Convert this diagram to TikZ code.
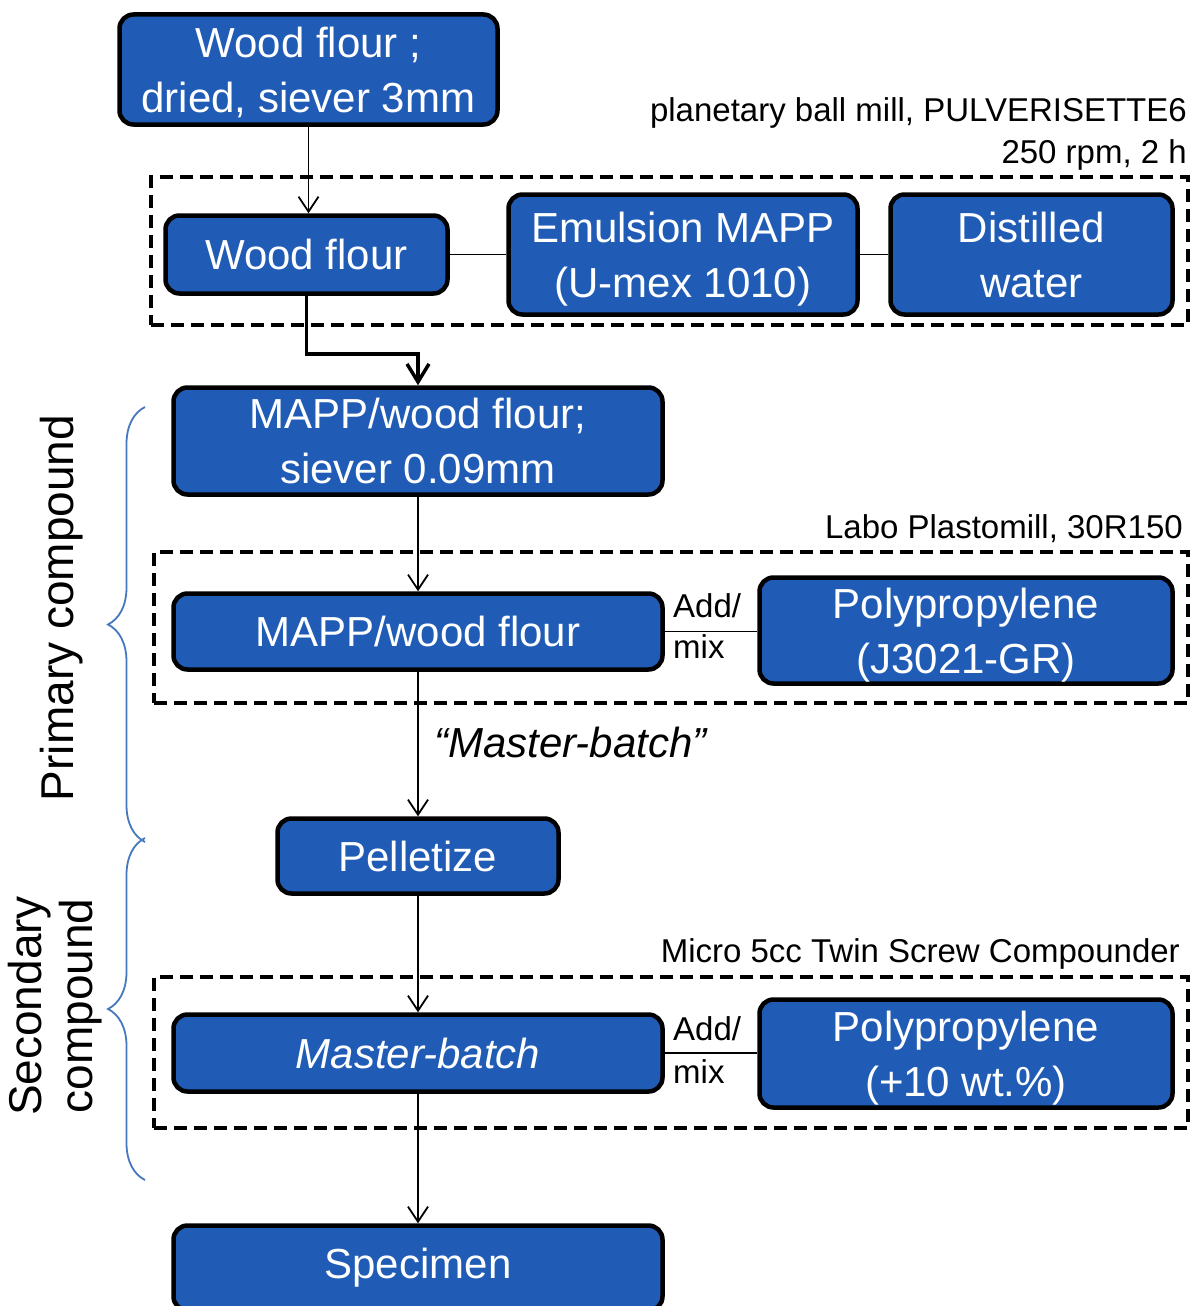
\documentclass[tikz,border=0pt]{standalone}
\usepackage{fontspec}
\setmainfont{Liberation Sans}
\usetikzlibrary{arrows.meta,decorations.pathreplacing}
\definecolor{boxblue}{RGB}{32,92,182}
\definecolor{braceblue}{RGB}{70,120,190}
\tikzset{
 box/.style={draw=black, line width=4.5pt, rounded corners=14pt, fill=boxblue, text=white,
   font=\fontsize{42}{55}\selectfont, align=center, inner sep=0pt},
 grp/.style={draw=black, line width=4pt, dash pattern=on 13pt off 7pt, inner sep=0pt},
 conn/.style={line width=1.8pt, -{Straight Barb[length=15pt,width=20pt,line width=1.8pt]}},
 thickconn/.style={line width=3.5pt, -{Straight Barb[length=18pt,width=22pt,line width=3.5pt]}},
 link/.style={line width=1.8pt},
 lbl/.style={font=\fontsize{33}{38}\selectfont, inner sep=0pt},
 brc/.style={decorate, decoration={brace, amplitude=37pt}, draw=braceblue, line width=1.8pt},
 side/.style={font=\fontsize{46}{51}\selectfont, rotate=90, inner sep=0pt, align=center},
}
\begin{document}
\begin{tikzpicture}[x=1pt,y=-1pt]
\useasboundingbox (0,0) rectangle (1197,1306);
\clip (0,0) rectangle (1197,1306);
\fill[white] (0,0) rectangle (1197,1306);

% dashed groups
\node[grp, minimum width=1037pt, minimum height=148pt] (g1) at (669.5,251) {};
\node[grp, minimum width=1034pt, minimum height=151pt] (g2) at (671,627.5) {};
\node[grp, minimum width=1034pt, minimum height=151pt] (g3) at (671,1052.5) {};

% group labels
\node[lbl, anchor=base east] (l1a) at (1187,121) {planetary ball mill, PULVERISETTE6};
\node[lbl, anchor=base east] (l1b) at (1187,163) {250 rpm, 2 h};
\node[lbl, anchor=base east] (l2) at (1183,538) {Labo Plastomill, 30R150};
\node[lbl, anchor=base east] (l3) at (1180,962) {Micro 5cc Twin Screw Compounder};

% boxes
\node[box, minimum width=378pt, minimum height=110pt] (top) at (308.5,69.5) {Wood flour ;\\\smash{dried, siever 3mm}};
\node[box, minimum width=282pt, minimum height=78pt] (wf) at (306.5,254.5) {Wood flour};
\node[box, minimum width=349pt, minimum height=120pt] (emu) at (683,254.5) {Emulsion MAPP\\\smash{(U-mex 1010)}};
\node[box, minimum width=282pt, minimum height=120pt] (dw) at (1031.5,254.5) {Distilled\\water};
\node[box, minimum width=489pt, minimum height=107pt] (mapp1) at (418,441) {MAPP/wood flour;\\siever 0.09mm};
\node[box, minimum width=489pt, minimum height=76pt] (mapp2) at (418,631.5) {MAPP/wood flour};
\node[box, minimum width=413pt, minimum height=106pt] (pp1) at (966,630.5) {Polypropylene\\\smash{(J3021-GR)}};
\node[box, minimum width=281pt, minimum height=75pt] (pel) at (418,856) {Pelletize};
\node[box, minimum width=489pt, minimum height=77pt] (mb) at (418,1053) {\itshape Master-batch};
\node[box, minimum width=413pt, minimum height=108pt] (pp2) at (966,1053.5) {Polypropylene\\\smash{(+10 wt.\%)}};
\node[box, minimum width=489pt, minimum height=85pt] (spec) at (418,1268) {Specimen};

% connectors
\draw[conn] (top.south) -- (top.south |- wf.north);
\draw[link] (wf.east) -- (emu.west);
\draw[link] (emu.east) -- (dw.west);
\draw[thickconn] (wf.south) -- ++(0,58) -| (mapp1.north);
\draw[conn] (mapp1.south) -- (mapp2.north);
\draw[link] (mapp2.east) -- (mapp2.east -| pp1.west);
\draw[conn] (mapp2.south) -- (pel.north);
\draw[conn] (pel.south) -- (mb.north);
\draw[link] (mb.east) -- (mb.east -| pp2.west);
\draw[conn] (mb.south) -- (spec.north);

% add/mix labels
\node[lbl, anchor=base west] (add1) at (673,617) {Add/};
\node[lbl, anchor=base west] (mix1) at (673,658) {mix};
\node[lbl, anchor=base west] (add2) at (673,1040) {Add/};
\node[lbl, anchor=base west] (mix2) at (673,1083) {mix};

% master-batch label
\node[anchor=base west, inner sep=0pt, font=\fontsize{42}{50}\selectfont\itshape] (mbl) at (434,757) {``Master-batch''};

% braces
\draw[brc] (145,842) -- (145,407);
\draw[brc] (145,1180) -- (145,838);
\node[side, anchor=base] (prim) at (73,608) {Primary compound};
\node[side] (sec) at (55,1006) {Secondary\\compound};
\end{tikzpicture}
\end{document}
